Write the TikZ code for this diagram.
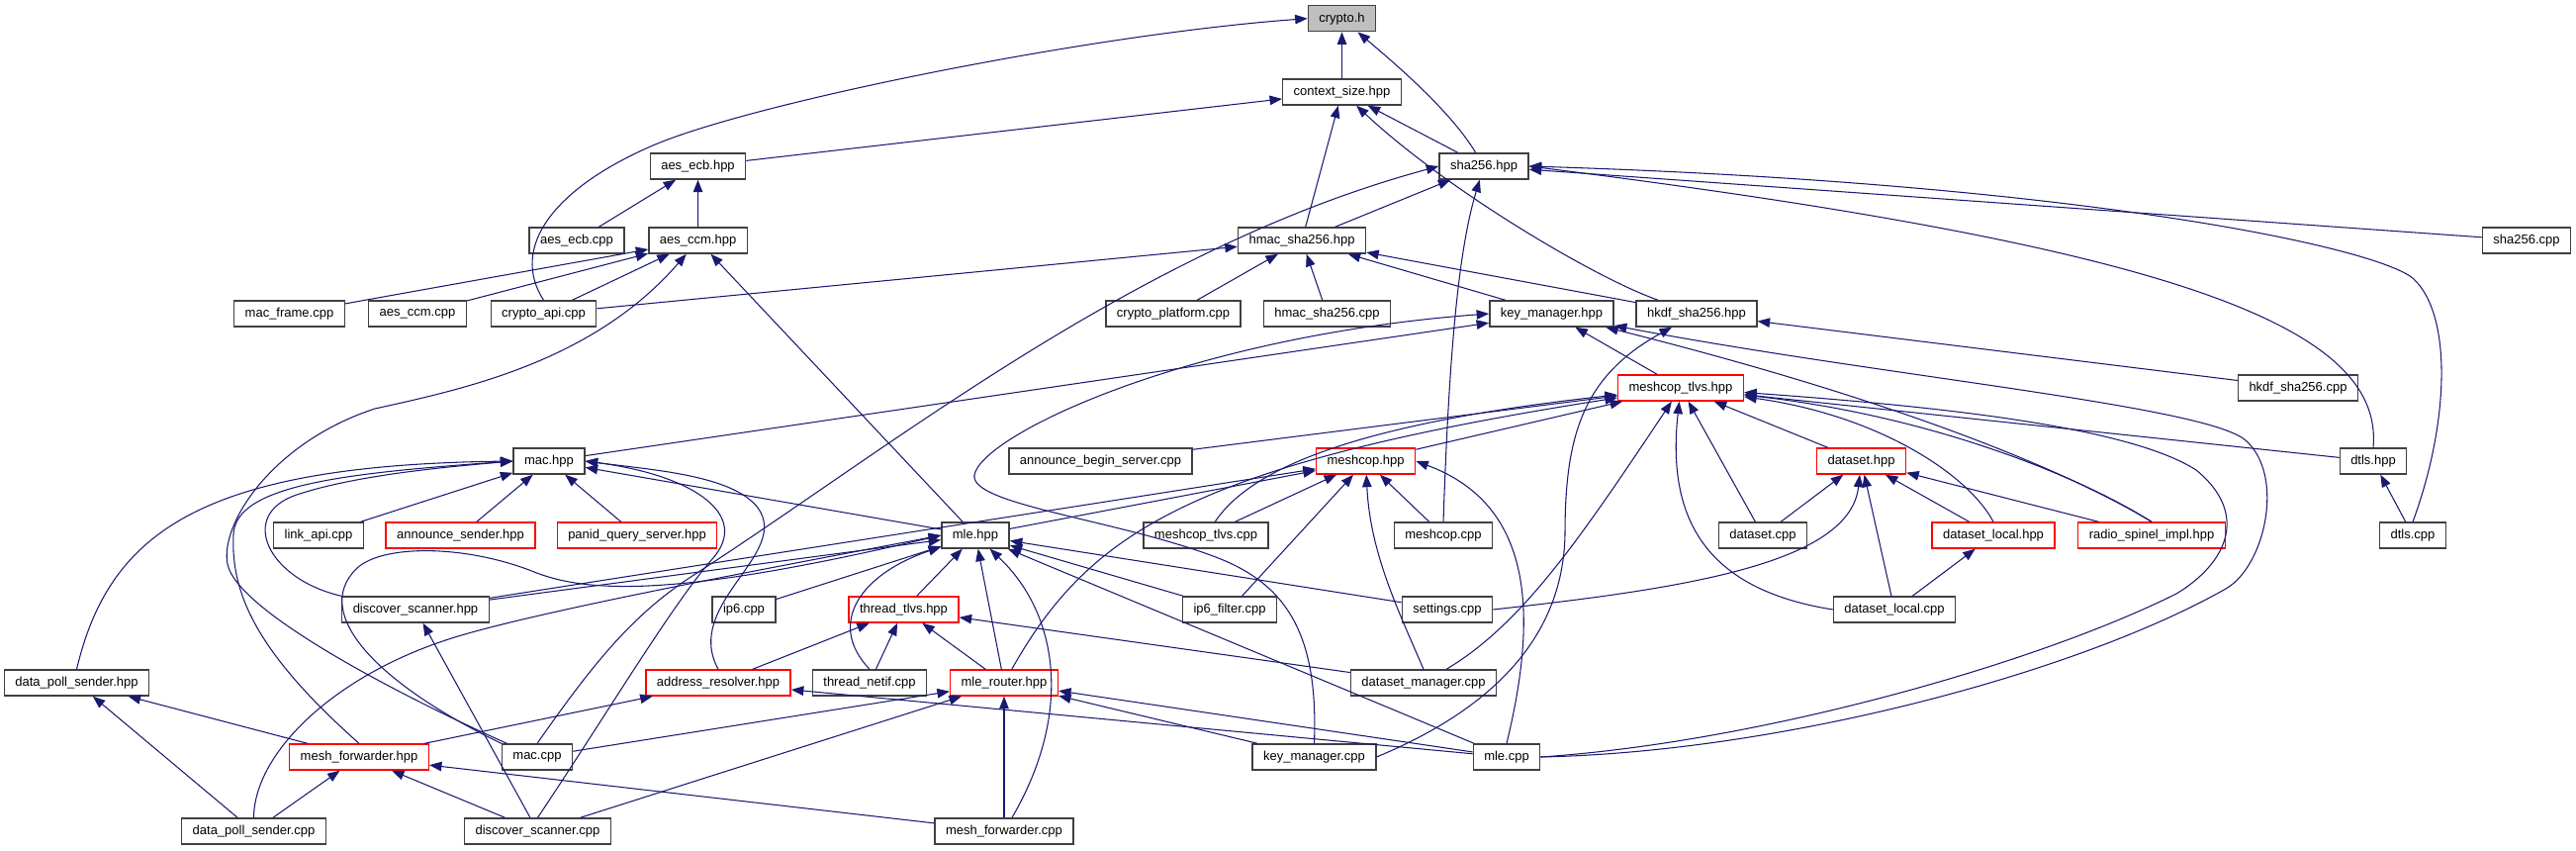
\documentclass[tikz,border=0pt]{standalone}
\usepackage{fontspec}
\setmainfont{Liberation Sans}
\usepackage{tikz}
\usetikzlibrary{arrows.meta}
\definecolor{edgeblue}{RGB}{25,25,112}

\begin{document}
\begin{tikzpicture}[x=0.02cm,y=-0.02cm,
  file/.style={draw=black!75, line width=0.8pt, fill=white, minimum height=0.52cm, inner xsep=0.22cm, inner ysep=0pt, font=\fontsize{7.4}{9}\selectfont},
  trunc/.style={file, draw=red},
  root/.style={file, fill=black!25},
  incl/.style={-{Triangle[length=0.25cm,width=0.19cm]}, draw=edgeblue, line width=0.6pt}
]
\useasboundingbox (0,0) rectangle (2604,859);
% row 0-3
\node[root] (cryptoh) at (1356.5,18.7) {crypto.h};
\node[file] (ctxsize) at (1356.5,93) {context\_size.hpp};
\node[file] (aesecbhpp) at (705.5,168) {aes\_ecb.hpp};
\node[file] (shahpp) at (1500,168) {sha256.hpp};
\node[file] (aesecbcpp) at (583,243) {aes\_ecb.cpp};
\node[file] (aesccmhpp) at (705.6,243) {aes\_ccm.hpp};
\node[file] (hmachpp) at (1316,243) {hmac\_sha256.hpp};
\node[file] (shacpp) at (2554,243) {sha256.cpp};
% row 4-5
\node[file] (macframe) at (292.5,317) {mac\_frame.cpp};
\node[file] (aesccmcpp) at (422,317) {aes\_ccm.cpp};
\node[file] (cryptoapi) at (549.5,317) {crypto\_api.cpp};
\node[file] (cryptoplat) at (1186,317) {crypto\_platform.cpp};
\node[file] (hmaccpp) at (1341.5,317) {hmac\_sha256.cpp};
\node[file] (keymgrhpp) at (1568.5,317) {key\_manager.hpp};
\node[file] (hkdfhpp) at (1715,317) {hkdf\_sha256.hpp};
\node[trunc] (tlvshpp) at (1699,392) {meshcop\_tlvs.hpp};
\node[file] (hkdfcpp) at (2323,392) {hkdf\_sha256.cpp};
% row 6-7
\node[file] (machpp) at (555,466) {mac.hpp};
\node[file] (abscpp) at (1112.5,466) {announce\_begin\_server.cpp};
\node[trunc] (meshcophpp) at (1380.6,466) {meshcop.hpp};
\node[trunc] (datasethpp) at (1881.5,466) {dataset.hpp};
\node[file] (dtlshpp) at (2399,466) {dtls.hpp};
\node[file] (linkapi) at (322,541) {link\_api.cpp};
\node[trunc] (anncsender) at (465.5,541) {announce\_sender.hpp};
\node[trunc] (panid) at (644,541) {panid\_query\_server.hpp};
\node[file] (mlehpp) at (986,541) {mle.hpp};
\node[file] (tlvscpp) at (1219,541) {meshcop\_tlvs.cpp};
\node[file] (meshcopcpp) at (1459,541) {meshcop.cpp};
\node[file] (datasetcpp) at (1782,541) {dataset.cpp};
\node[trunc] (dslocalhpp) at (2015,541) {dataset\_local.hpp};
\node[trunc] (radiospinel) at (2175,541) {radio\_spinel\_impl.hpp};
\node[file] (dtlscpp) at (2439,541) {dtls.cpp};
% row 8-11
\node[file] (discohpp) at (420,616) {discover\_scanner.hpp};
\node[file] (ipsixcpp) at (752,616) {ip6.cpp};
\node[trunc] (threadtlvs) at (913.5,616) {thread\_tlvs.hpp};
\node[file] (ipsixfilter) at (1243,616) {ip6\_filter.cpp};
\node[file] (settings) at (1463,616) {settings.cpp};
\node[file] (dslocalcpp) at (1915,616) {dataset\_local.cpp};
\node[file] (dpshpp) at (77.5,690) {data\_poll\_sender.hpp};
\node[trunc] (addrres) at (726,690) {address\_resolver.hpp};
\node[file] (netif) at (879,690) {thread\_netif.cpp};
\node[trunc] (mlerouter) at (1015,690) {mle\_router.hpp};
\node[file] (dsmgr) at (1439,690) {dataset\_manager.cpp};
\node[trunc] (meshfwdhpp) at (363,765) {mesh\_forwarder.hpp};
\node[file] (maccpp) at (543,765) {mac.cpp};
\node[file] (keymgrcpp) at (1328.5,765) {key\_manager.cpp};
\node[file] (mlecpp) at (1523,765) {mle.cpp};
\node[file] (dpscpp) at (256.5,840) {data\_poll\_sender.cpp};
\node[file] (discocpp) at (543.5,840) {discover\_scanner.cpp};
\node[file] (meshfwdcpp) at (1015,840) {mesh\_forwarder.cpp};

% straight includes: includer/included
\foreach \a/\b in {ctxsize/cryptoh, aesecbhpp/ctxsize, shahpp/ctxsize, hmachpp/ctxsize,
  aesecbcpp/aesecbhpp, aesccmhpp/aesecbhpp, hmachpp/shahpp, shacpp/shahpp,
  macframe/aesccmhpp, aesccmcpp/aesccmhpp, cryptoapi/aesccmhpp, mlehpp/aesccmhpp,
  cryptoapi/hmachpp, cryptoplat/hmachpp, hmaccpp/hmachpp, keymgrhpp/hmachpp, hkdfhpp/hmachpp,
  machpp/keymgrhpp, tlvshpp/keymgrhpp, hkdfcpp/hkdfhpp,
  meshcophpp/tlvshpp, abscpp/tlvshpp, datasethpp/tlvshpp, datasetcpp/tlvshpp, dtlshpp/tlvshpp,
  discohpp/meshcophpp, mlehpp/meshcophpp, tlvscpp/meshcophpp, ipsixfilter/meshcophpp, meshcopcpp/meshcophpp,
  datasetcpp/datasethpp, dslocalhpp/datasethpp, radiospinel/datasethpp, dslocalcpp/datasethpp,
  dtlscpp/dtlshpp, dslocalcpp/dslocalhpp,
  linkapi/machpp, anncsender/machpp, panid/machpp, mlehpp/machpp,
  threadtlvs/mlehpp, mlerouter/mlehpp, ipsixcpp/mlehpp, ipsixfilter/mlehpp, settings/mlehpp, mlecpp/mlehpp, discohpp/mlehpp,
  addrres/threadtlvs, netif/threadtlvs, mlerouter/threadtlvs, dsmgr/threadtlvs,
  discocpp/discohpp, meshfwdhpp/dpshpp, dpscpp/dpshpp, dpscpp/meshfwdhpp, discocpp/meshfwdhpp, meshfwdcpp/meshfwdhpp,
  meshfwdhpp/addrres, mlecpp/addrres,
  maccpp/mlerouter, discocpp/mlerouter, meshfwdcpp/mlerouter, keymgrcpp/mlerouter, mlecpp/mlerouter}
  \draw[incl] (\a) -- (\b);

% curved includes
\draw[incl] (shahpp) .. controls (1465,110) and (1405,60) .. (cryptoh);
\draw[incl] (cryptoapi.north) .. controls (515,250) and (560,190) .. (660,147) .. controls (760,104) and (1100,35) .. (cryptoh.west);
\draw[incl] (hkdfhpp) .. controls (1610,280) and (1460,190) .. (ctxsize);
\draw[incl] (dtlshpp.north) .. controls (2410,330) and (2200,250) .. (shahpp.east);
\draw[incl] (dtlscpp.north) .. controls (2475,430) and (2480,320) .. (2440,282) .. controls (2405,250) and (2100,185) .. (shahpp.east);
\draw[incl] (meshcopcpp.north) .. controls (1465,350) and (1475,250) .. (shahpp);
\draw[incl] (maccpp.north) .. controls (600,670) and (640,620) .. (703,580) .. controls (900,453) and (1150,250) .. (shahpp.west);
\draw[incl] (maccpp) .. controls (420,710) and (240,620) .. (230,570) .. controls (222,530) and (275,447) .. (379,413) .. controls (470,393) and (600,365) .. (aesccmhpp);
\draw[incl] (maccpp.north west) .. controls (380,690) and (315,620) .. (360,575) .. controls (385,550) and (470,550) .. (540,578) .. controls (600,602) and (700,600) .. (mlehpp.west);
\draw[incl] (keymgrcpp.north) .. controls (1333,640) and (1300,590) .. (1229,563) .. controls (1129,525) and (980,510) .. (985,480) .. controls (992,440) and (1200,340) .. (keymgrhpp.west);
\draw[incl] (keymgrcpp.east) .. controls (1500,720) and (1580,650) .. (1582,540) .. controls (1582,440) and (1600,380) .. (hkdfhpp);
\draw[incl] (mlecpp.east) .. controls (1800,760) and (2100,680) .. (2250,595) .. controls (2290,572) and (2310,480) .. (2270,445) .. controls (2230,410) and (1900,380) .. (keymgrhpp);
\draw[incl] (mlecpp.east) .. controls (1780,750) and (2060,670) .. (2200,600) .. controls (2250,570) and (2275,520) .. (2220,475) .. controls (2150,430) and (1950,410) .. (tlvshpp);
\draw[incl] (mlecpp.north) .. controls (1555,620) and (1550,510) .. (meshcophpp.east);
\draw[incl] (settings.east) .. controls (1700,595) and (1870,570) .. (datasethpp);
\draw[incl] (dslocalcpp.west) .. controls (1720,595) and (1685,520) .. (tlvshpp);
\draw[incl] (dsmgr.north) .. controls (1415,620) and (1385,560) .. (meshcophpp);
\draw[incl] (dsmgr) .. controls (1540,630) and (1600,540) .. (tlvshpp);
\draw[incl] (mlerouter) .. controls (1100,540) and (1200,470) .. (tlvshpp);
\draw[incl] (tlvscpp) .. controls (1260,480) and (1350,430) .. (tlvshpp);
\draw[incl] (dslocalhpp.north) .. controls (1990,480) and (1900,420) .. (tlvshpp);
\draw[incl] (radiospinel.north) .. controls (2100,480) and (1950,420) .. (tlvshpp);
\draw[incl] (radiospinel.north) .. controls (2080,470) and (1900,400) .. (keymgrhpp);
\draw[incl] (meshfwdcpp) .. controls (1085,720) and (1070,620) .. (mlehpp);
\draw[incl] (netif.north) .. controls (835,630) and (870,580) .. (mlehpp);
\draw[incl] (addrres.north) .. controls (690,610) and (800,560) .. (766,513) .. controls (740,480) and (660,475) .. (machpp.east);
\draw[incl] (discocpp.north) .. controls (610,727) and (680,610) .. (720,565) .. controls (760,520) and (700,480) .. (machpp.east);
\draw[incl] (dpshpp.north) .. controls (110,540) and (200,470) .. (machpp.west);
\draw[incl] (meshfwdhpp.north) .. controls (260,660) and (233,600) .. (236,540) .. controls (238,490) and (350,478) .. (machpp.west);
\draw[incl] (discohpp.north west) .. controls (270,585) and (240,520) .. (300,500) .. controls (360,480) and (450,472) .. (machpp.west);
\draw[incl] (dpscpp.north) .. controls (257,760) and (340,680) .. (463,643) .. controls (560,614) and (800,570) .. (mlehpp.west);
\end{tikzpicture}
\end{document}
